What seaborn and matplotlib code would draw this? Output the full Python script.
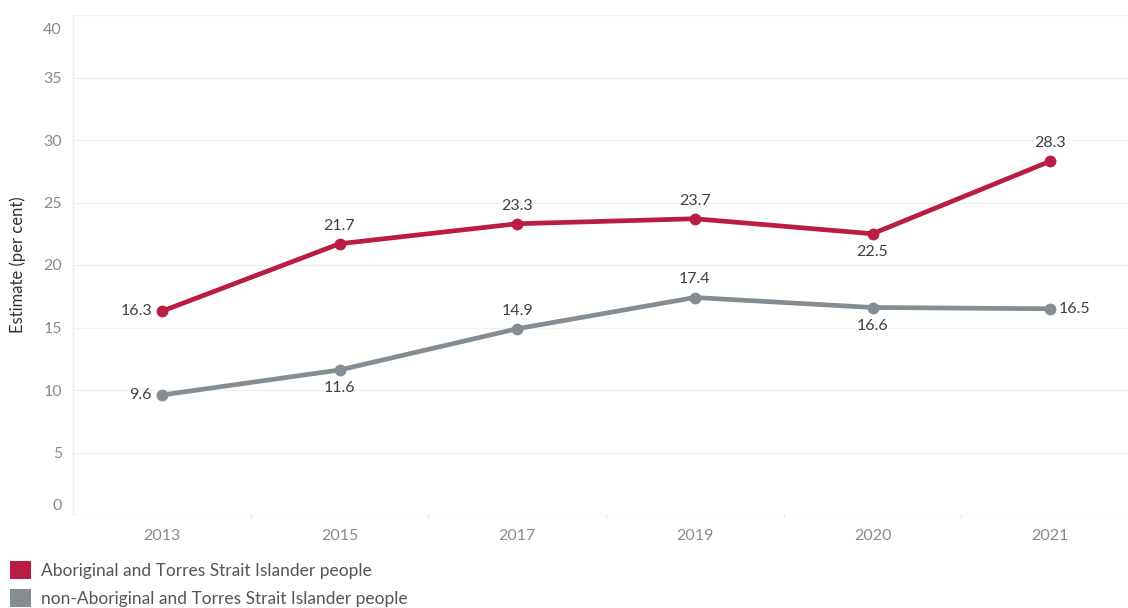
import matplotlib
matplotlib.use("Agg")
import matplotlib.pyplot as plt
from matplotlib.patches import Patch
import matplotlib.transforms as mtrans
import seaborn as sns
import pandas as pd

years = ["2013", "2015", "2017", "2019", "2020", "2021"]
indigenous = [16.3, 21.7, 23.3, 23.7, 22.5, 28.3]
non_indigenous = [9.6, 11.6, 14.9, 17.4, 16.6, 16.5]
series_names = ["Aboriginal and Torres Strait Islander people",
                "non-Aboriginal and Torres Strait Islander people"]
ind_label_pos = ["left", "above", "above", "above", "below", "above"]
non_label_pos = ["left", "below", "above", "above", "below", "right"]
colors = ["#BA1C42", "#858D92"]
y_ticks = [0, 5, 10, 15, 20, 25, 30, 35, 40]

sns.set_theme(style="white")
plt.rcParams['font.family'] = ['Lato', 'DejaVu Sans']

df = pd.DataFrame({
    "year": years * 2,
    "value": indigenous + non_indigenous,
    "series": [series_names[0]] * len(years) + [series_names[1]] * len(years),
})

fig = plt.figure(figsize=(11.28, 6.08), dpi=100)
ax = fig.add_axes([73 / 1128, 93 / 608, 1066 / 1128, (515 - 15) / 608])

sns.lineplot(data=df, x="year", y="value", hue="series", palette=colors,
             marker="o", markersize=8.5, markeredgewidth=0, linewidth=3.4,
             sort=False, legend=False, ax=ax)

ax.set_xlim(-0.5, len(years) - 0.5)
ax.set_ylim(0, 40)
for y in [5, 10, 15, 20, 25, 30, 35, 40]:
    ax.axhline(y, color="#F0F0F0", linewidth=0.9, zorder=0)
ax.axhline(0, color="#E6E6E6", linewidth=1.0, zorder=0)

for s in ["top", "right", "bottom"]:
    ax.spines[s].set_visible(False)
ax.spines["left"].set_color("#EEEEEE")
ax.spines["left"].set_linewidth(1.0)

ax.set_yticks(y_ticks)
ax.set_yticklabels([str(t) for t in y_ticks])
ax.tick_params(axis="y", length=0, pad=8, labelsize=11.5, labelcolor="#8A8A8A")
ax.tick_params(axis="x", length=0, pad=10, labelsize=11.5, labelcolor="#8A8A8A")
labels = ax.get_yticklabels()
labels[0].set_transform(labels[0].get_transform() + mtrans.ScaledTranslation(0, 10 / 100, fig.dpi_scale_trans))
labels[-1].set_transform(labels[-1].get_transform() + mtrans.ScaledTranslation(0, -13 / 100, fig.dpi_scale_trans))

ax.set_xlabel("")
ax.set_ylabel("Estimate (per cent)", fontsize=12, color="#333333", labelpad=12)

for i in range(1, len(years)):
    ax.plot([i - 0.5, i - 0.5], [0, -0.25], color="#EAEAEA", lw=1, clip_on=False)


def annotate(vals, positions):
    for i, (v, p) in enumerate(zip(vals, positions)):
        if p == "above":
            off, ha, va = (0, 8), "center", "bottom"
        elif p == "below":
            off, ha, va = (0, -8), "center", "top"
        elif p == "left":
            off, ha, va = (-7, 0), "right", "center"
        else:
            off, ha, va = (6, 0), "left", "center"
        ax.annotate(f"{v}", (i, v), xytext=off, textcoords="offset points",
                    ha=ha, va=va, fontsize=11.5, color="#404040")


annotate(indigenous, ind_label_pos)
annotate(non_indigenous, non_label_pos)

handles = [Patch(facecolor=c, edgecolor="none") for c in colors]
fig.legend(handles, series_names, loc="upper left", bbox_to_anchor=(0.003, 0.088),
           frameon=False, fontsize=12.5, labelcolor="#555555", handlelength=1.2,
           handleheight=1.2, handletextpad=0.55, labelspacing=0.55, borderaxespad=0)

fig.savefig("out.png", dpi=100)
